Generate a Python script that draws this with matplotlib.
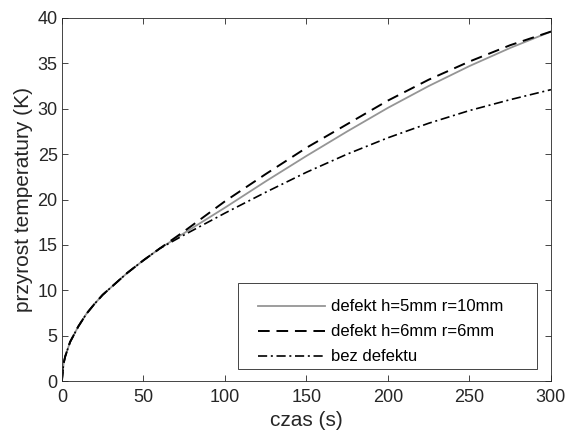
import numpy as np
import matplotlib
matplotlib.use("Agg")
import matplotlib.pyplot as plt
from matplotlib.patches import Rectangle

plt.rcParams["font.family"] = ["Liberation Sans", "DejaVu Sans"]

# czas (s)
t = [0, 1, 2, 5, 10, 15, 20, 25, 30, 35, 40, 45, 50, 60,
     75, 100, 125, 150, 175, 200, 225, 250, 275, 300]
common = [0, 1.9, 2.7, 4.3, 6.0, 7.4, 8.5, 9.5, 10.3, 11.1, 11.9, 12.6, 13.3, 14.6]

defekt_5_10 = common + [16.3, 19.1, 22.0, 24.8, 27.5, 30.1, 32.5, 34.7, 36.7, 38.5]
defekt_6_6 = common + [16.5, 19.8, 22.8, 25.7, 28.3, 30.9, 33.2, 35.2, 37.0, 38.5]
bez_defektu = common + [16.1, 18.5, 20.8, 23.0, 25.0, 26.8, 28.4, 29.8, 31.0, 32.1]

labels = ["defekt h=5mm r=10mm", "defekt h=6mm r=6mm", "bez defektu"]

fig = plt.figure(figsize=(5.68, 4.38), dpi=100)
ax = fig.add_axes([0.109, 0.130, 0.861, 0.829])

ax.plot(t, defekt_5_10, color="#959595", lw=1.3, label=labels[0])
ax.plot(t, defekt_6_6, color="black", lw=1.4, linestyle=(0, (6, 3.5)), label=labels[1])
ax.plot(t, bez_defektu, color="black", lw=1.2, linestyle=(0, (5.5, 2.2, 1.2, 2.2)), label=labels[2])

ax.set_xlim(0, 300)
ax.set_ylim(0, 40)
ax.set_xticks(np.arange(0, 301, 50))
ax.set_yticks(np.arange(0, 41, 5))
ax.tick_params(direction="in", length=4, width=0.6, top=True, right=True,
               labelsize=13, colors="#262626", labelcolor="#262626", pad=3)
ax.tick_params(axis="x", pad=6)
for s in ax.spines.values():
    s.set_color("#262626")
    s.set_linewidth(0.6)

ax.set_xlabel("czas (s)", fontsize=15, color="#262626", labelpad=3)
ax.set_ylabel("przyrost temperatury (K)", fontsize=15, color="#262626", labelpad=3)

# legend frame (MATLAB style, wider than its contents)
ax.add_patch(Rectangle((0.360, 0.033), 0.611, 0.237, transform=ax.transAxes,
                       facecolor="white", edgecolor="#262626", lw=0.6, zorder=4))
leg = ax.legend(loc="upper left", bbox_to_anchor=(0.401, 0.225), fontsize=12,
                frameon=False, borderaxespad=0, borderpad=0, handlelength=4.0,
                handletextpad=0.4, labelspacing=0.6)
leg.set_zorder(5)

fig.savefig("out.png", dpi=100)
